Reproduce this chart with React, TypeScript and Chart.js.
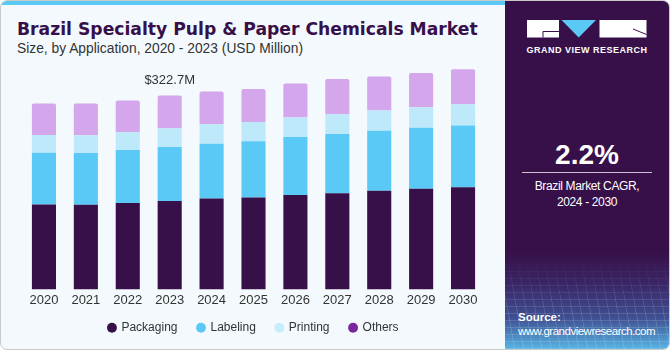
import React, { useEffect, useRef } from "react";
import { Chart, registerables } from "chart.js";

Chart.register(...registerables);

const years = ["2020", "2021", "2022", "2023", "2024", "2025", "2026", "2027", "2028", "2029", "2030"];
const packaging = [141.4, 140.8, 144.0, 147.3, 151.2, 152.9, 157.2, 160.0, 164.4, 167.7, 170.3];
const labeling = [86.0, 86.5, 88.3, 89.9, 91.4, 93.7, 96.5, 98.6, 99.6, 101.3, 102.6];
const printing = [29.6, 29.6, 29.6, 31.2, 32.4, 32.2, 32.4, 32.9, 34.0, 34.5, 35.5];
const others = [52.6, 52.6, 52.6, 54.3, 54.7, 54.9, 56.9, 58.7, 56.4, 57.0, 58.2];
const seriesNames = ["Packaging", "Labeling", "Printing", "Others"];
const barColors = ["#37104a", "#5bc9f6", "#bde9fa", "#d4a6eb"];
const legendColors = ["#37104a", "#5bc9f6", "#c5eefc", "#7a279d"];
const highlightYear = "2023";
const highlightLabel = "$322.7M";

const FONT = "'Liberation Sans', Arial, sans-serif";

function BarChart() {
  const ref = useRef<HTMLCanvasElement | null>(null);
  useEffect(() => {
    if (!ref.current) return;
    const values = [packaging, labeling, printing, others];
    const labelPlugin = {
      id: "highlightLabel",
      afterDatasetsDraw(chart: any) {
        const idx = years.indexOf(highlightYear);
        const meta = chart.getDatasetMeta(values.length - 1);
        const el = meta.data[idx];
        if (!el) return;
        const ctx = chart.ctx;
        ctx.save();
        ctx.font = `13px ${FONT}`;
        ctx.fillStyle = "#333333";
        ctx.textAlign = "center";
        ctx.textBaseline = "middle";
        ctx.fillText(highlightLabel, el.x, el.y - 15);
        ctx.restore();
      },
    };
    const legendShift = {
      id: "legendShift",
      afterLayout(chart: any) {
        const lg = chart.legend;
        if (lg) {
          lg.top -= 9.3;
          lg.bottom -= 9.3;
        }
      },
    };
    const chart = new Chart(ref.current, {
      type: "bar",
      data: {
        labels: years,
        datasets: values.map((v, i) => ({
          label: seriesNames[i],
          data: v,
          backgroundColor: barColors[i],
          borderWidth: 0,
          borderRadius: i === values.length - 1 ? { topLeft: 2, topRight: 2, bottomLeft: 0, bottomRight: 0 } : 0,
          borderSkipped: false,
          categoryPercentage: 1,
          barPercentage: 0.575,
        })),
      },
      options: {
        animation: false,
        responsive: true,
        maintainAspectRatio: false,
        layout: { padding: { left: 23, right: 21, top: 0, bottom: 0 } },
        scales: {
          x: {
            stacked: true,
            grid: { display: false, drawTicks: false },
            border: { display: false },
            ticks: { color: "#333333", font: { family: FONT, size: 13 }, padding: 3 },
          },
          y: { stacked: true, display: false, min: 0, max: 382 },
        },
        plugins: {
          tooltip: { enabled: false },
          legend: {
            position: "bottom",
            labels: {
              usePointStyle: true,
              pointStyle: "circle",
              boxWidth: 7,
              boxHeight: 7,
              padding: 20,
              color: "#333333",
              font: { family: FONT, size: 12 },
              generateLabels: () =>
                seriesNames.map((n, i) => ({
                  text: n,
                  fillStyle: legendColors[i],
                  strokeStyle: legendColors[i],
                  lineWidth: 0,
                  pointStyle: "circle",
                  datasetIndex: i,
                  hidden: false,
                  fontColor: "#333333",
                })),
            },
          },
        },
      },
      plugins: [labelPlugin, legendShift],
    });
    return () => chart.destroy();
  }, []);
  return (
    <div style={{ position: "absolute", left: 0, top: 60, width: 505, height: 293 }}>
      <canvas ref={ref} />
    </div>
  );
}

function Logo() {
  return (
    <svg width={121} height={18} viewBox="0 0 121 18" style={{ position: "absolute", left: 527, top: 20 }}>
      <rect x={0} y={0} width={32} height={17.5} fill="#ffffff" />
      <path d="M16 11.5 H32 M16 11.5 V17.5" stroke="#37104a" strokeWidth={1} fill="none" />
      <polygon points="34.5,0 69,0 51.7,17.5" fill="#5bc9f6" />
      <rect x={72.5} y={0} width={47} height={17.5} fill="#ffffff" />
      <path d="M106 9 L119.5 14.5" stroke="#37104a" strokeWidth={1} fill="none" />
    </svg>
  );
}

export default function App() {
  return (
    <div
      style={{
        position: "fixed",
        left: 0,
        top: 0,
        width: 670,
        height: 350,
        background: "#ffffff",
        fontFamily: FONT,
        overflow: "hidden",
      }}
    >
      <div
        style={{
          position: "absolute",
          left: 0,
          top: 0,
          width: 668,
          height: 348,
          border: "1px solid #c9c9c9",
          borderRadius: 7,
          background: "#f4f9fd",
          overflow: "hidden",
        }}
      >
        <div style={{ position: "absolute", left: 0, top: 0, width: 505, height: 4, background: "#5bc9f6" }} />
        <div
          style={{
            position: "absolute",
            left: 504,
            top: 0,
            width: 164,
            height: 348,
            background:
              "linear-gradient(to bottom, #37104a 0%, #37104a 72%, #3a2565 81%, #3f4f92 91%, #58b4e4 100%)",
          }}
        />
        <div
          style={{
            position: "absolute",
            left: 504,
            top: 258,
            width: 164,
            height: 90,
            backgroundImage:
              "repeating-linear-gradient(0deg, rgba(255,255,255,0.13) 0px, rgba(255,255,255,0.13) 1px, transparent 1px, transparent 7px), repeating-linear-gradient(80deg, rgba(255,255,255,0.13) 0px, rgba(255,255,255,0.13) 1px, transparent 1px, transparent 9px)",
            WebkitMaskImage: "linear-gradient(to bottom, transparent 0%, black 60%)",
            maskImage: "linear-gradient(to bottom, transparent 0%, black 60%)",
          }}
        />
      </div>

      <div
        style={{
          position: "absolute",
          left: 17,
          top: 18.5,
          fontSize: 17.2,
          lineHeight: "20px",
          fontWeight: 700,
          fontFamily: "'DejaVu Sans', 'Liberation Sans', sans-serif",
          color: "#37104a",
          whiteSpace: "nowrap",
        }}
      >
        Brazil Specialty Pulp &amp; Paper Chemicals Market
      </div>
      <div
        style={{
          position: "absolute",
          left: 17,
          top: 41,
          fontSize: 13.8,
          lineHeight: "16px",
          color: "#333333",
          whiteSpace: "nowrap",
        }}
      >
        Size, by Application, 2020 - 2023 (USD Million)
      </div>

      <BarChart />

      <Logo />
      <div
        style={{
          position: "absolute",
          left: 505,
          width: 164,
          top: 44,
          textAlign: "center",
          color: "#ffffff",
          fontSize: 9,
          fontWeight: 700,
          letterSpacing: 0.5,
          lineHeight: "12px",
          whiteSpace: "nowrap",
        }}
      >
        GRAND VIEW RESEARCH
      </div>
      <div
        style={{
          position: "absolute",
          left: 505,
          width: 164,
          top: 139,
          textAlign: "center",
          color: "#ffffff",
          fontSize: 28,
          fontWeight: 700,
          lineHeight: "32px",
        }}
      >
        2.2%
      </div>
      <div style={{ position: "absolute", left: 522, top: 172, width: 130, height: 1, background: "rgba(255,255,255,0.75)" }} />
      <div
        style={{
          position: "absolute",
          left: 505,
          width: 164,
          top: 178,
          textAlign: "center",
          color: "#ffffff",
          fontSize: 12,
          letterSpacing: -0.35,
          lineHeight: "16px",
          whiteSpace: "nowrap",
        }}
      >
        Brazil Market CAGR,
        <br />
        2024 - 2030
      </div>
      <div
        style={{
          position: "absolute",
          left: 518,
          top: 310,
          color: "#ffffff",
          fontSize: 11.5,
          letterSpacing: -0.5,
          lineHeight: "14px",
          whiteSpace: "nowrap",
        }}
      >
        <span style={{ fontWeight: 700, letterSpacing: 0 }}>Source:</span>
        <br />
        www.grandviewresearch.com
      </div>
    </div>
  );
}
